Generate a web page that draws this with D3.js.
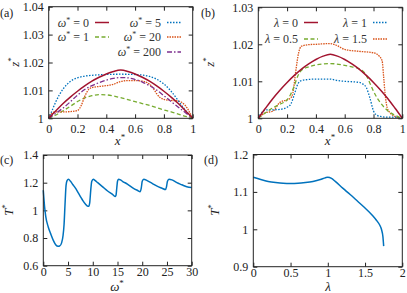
<!DOCTYPE html>
<html>
<head>
<meta charset="utf-8">
<script src="https://cdn.jsdelivr.net/npm/d3@7"></script>
<style>
  body { margin: 0; background: #fff; }
  svg, svg text { font-family: "Liberation Serif", "DejaVu Serif", serif; }
  .tick text { font-size: 12px; fill: #222; font-family: "Liberation Serif", serif; }
  .domain { display: none; }
  .tick line { stroke: #222; }
</style>
</head>
<body>
<svg id="fig" width="407" height="293"></svg>
<script>
"use strict";

// panel (a): z* against x* for several omega*
const omega0 = [[0,1],[0.05,1.0027],[0.1,1.0053],[0.15,1.0076],[0.2,1.0097],[0.25,1.0116],[0.3,1.0133],[0.35,1.0147],[0.4,1.0159],[0.45,1.0168],[0.5,1.0173],[0.55,1.0168],[0.6,1.0159],[0.65,1.0147],[0.7,1.0133],[0.75,1.0116],[0.8,1.0097],[0.85,1.0076],[0.9,1.0053],[0.95,1.0027],[1,1]];
const omega1 = [[0,1],[0.05,1.0012],[0.1,1.0027],[0.15,1.0043],[0.2,1.006],[0.25,1.0073],[0.3,1.0081],[0.35,1.0085],[0.4,1.0084],[0.45,1.008],[0.5,1.0074],[0.55,1.0067],[0.6,1.006],[0.65,1.0053],[0.7,1.0046],[0.75,1.0038],[0.8,1.003],[0.85,1.0023],[0.9,1.0015],[0.95,1.0007],[1,1]];
const omega5 = [[0,1],[0.025,1.003],[0.05,1.006],[0.1,1.0105],[0.15,1.0132],[0.2,1.0145],[0.25,1.0151],[0.3,1.0154],[0.4,1.0157],[0.5,1.0158],[0.6,1.0157],[0.65,1.0155],[0.7,1.015],[0.75,1.014],[0.8,1.0123],[0.85,1.0097],[0.9,1.0063],[0.95,1.0028],[1,1]];
const omega20 = [[0,1],[0.02,1.0018],[0.05,1.0023],[0.1,1.0023],[0.15,1.0024],[0.2,1.0028],[0.225,1.0045],[0.25,1.0078],[0.275,1.0102],[0.3,1.011],[0.35,1.0114],[0.4,1.0117],[0.45,1.0122],[0.5,1.0132],[0.55,1.0135],[0.6,1.0135],[0.65,1.0133],[0.7,1.0122],[0.725,1.0108],[0.75,1.0088],[0.775,1.0074],[0.8,1.0068],[0.85,1.0064],[0.9,1.0062],[0.93,1.0055],[0.96,1.0038],[0.98,1.002],[1,1]];
const omega200 = [[0,1],[0.05,1.0018],[0.1,1.0037],[0.15,1.0059],[0.2,1.0083],[0.25,1.0103],[0.3,1.0117],[0.35,1.0128],[0.4,1.0137],[0.45,1.0143],[0.5,1.0146],[0.55,1.0145],[0.6,1.0139],[0.65,1.013],[0.7,1.0117],[0.75,1.0101],[0.8,1.0081],[0.85,1.006],[0.9,1.004],[0.95,1.002],[1,1]];

// panel (b): z* against x* for several lambda
const lambda0 = omega0;
const lambda05 = [[0,1],[0.05,1.0015],[0.1,1.0028],[0.15,1.0038],[0.2,1.005],[0.225,1.0065],[0.25,1.0088],[0.275,1.0115],[0.3,1.013],[0.35,1.0139],[0.4,1.0144],[0.5,1.0148],[0.6,1.0143],[0.65,1.0139],[0.7,1.0134],[0.725,1.0128],[0.75,1.0116],[0.775,1.0095],[0.8,1.0073],[0.825,1.0055],[0.85,1.0041],[0.9,1.002],[0.95,1.0008],[1,1]];
const lambda1 = [[0,1],[0.03,1.0018],[0.06,1.0023],[0.1,1.0023],[0.15,1.0024],[0.2,1.003],[0.225,1.0038],[0.25,1.0064],[0.275,1.0093],[0.3,1.0102],[0.35,1.0105],[0.4,1.0106],[0.5,1.0106],[0.55,1.0102],[0.6,1.01],[0.7,1.0097],[0.725,1.0093],[0.75,1.0083],[0.775,1.0055],[0.8,1.002],[0.825,1.0008],[0.85,1.0005],[0.9,1.0003],[0.95,1.0003],[1,1]];
const lambda15 = [[0,1],[0.05,1.0015],[0.1,1.0019],[0.15,1.0043],[0.2,1.005],[0.225,1.0055],[0.24,1.0068],[0.26,1.0127],[0.28,1.0177],[0.3,1.0195],[0.35,1.0199],[0.4,1.02],[0.5,1.0202],[0.55,1.0196],[0.6,1.0186],[0.7,1.0181],[0.8,1.0177],[0.84,1.0168],[0.86,1.0155],[0.87,1.0114],[0.88,1.0068],[0.9,1.0023],[0.95,1.0005],[1,1]];

// panel (c): T* against omega*
const tOmega = [[0,1.145],[0.25,1.03],[0.5,0.955],[1,0.88],[1.5,0.83],[2,0.785],[2.5,0.752],[3,0.74],[3.3,0.742],[3.7,0.765],[4,0.82],[4.2,0.9],[4.4,1.05],[4.6,1.18],[4.8,1.215],[5.1,1.225],[5.5,1.21],[6,1.185],[6.5,1.16],[7,1.13],[7.5,1.1],[8,1.07],[8.5,1.045],[9,1.03],[9.2,1.03],[9.4,1.06],[9.6,1.15],[9.8,1.21],[10.1,1.225],[10.5,1.215],[11,1.2],[12,1.17],[13,1.14],[14,1.115],[14.5,1.1],[14.7,1.11],[14.85,1.16],[15,1.21],[15.2,1.225],[15.6,1.22],[16,1.21],[17,1.19],[18,1.165],[19,1.145],[19.6,1.135],[19.8,1.16],[20,1.21],[20.3,1.225],[21,1.215],[22,1.195],[23,1.175],[24,1.16],[24.7,1.15],[24.9,1.17],[25.1,1.21],[25.4,1.225],[26,1.22],[27,1.2],[28,1.185],[29,1.17],[30,1.165]];

// panel (d): T* against lambda
const tLambda = [[0,1.139],[0.1,1.133],[0.2,1.128],[0.3,1.125],[0.4,1.123],[0.5,1.1225],[0.6,1.123],[0.7,1.125],[0.8,1.128],[0.9,1.133],[0.97,1.138],[1.0,1.139],[1.05,1.136],[1.1,1.128],[1.2,1.11],[1.3,1.093],[1.4,1.075],[1.5,1.057],[1.6,1.037],[1.65,1.025],[1.7,1.01],[1.72,1.0],[1.74,0.98],[1.75,0.955]];

// ticks
const xTicksTop = [0, 0.2, 0.4, 0.6, 0.8, 1];
const zTicksA = [1, 1.01, 1.02, 1.03, 1.04];
const zTicksB = [1, 1.01, 1.02, 1.03];
const omegaTicks = [0, 5, 10, 15, 20, 25, 30];
const tTicksC = [0.6, 0.8, 1, 1.2, 1.4];
const lambdaTicks = [0, 0.5, 1, 1.5, 2];
const tTicksD = [0.9, 1, 1.1, 1.2];

const red = "#A2142F", blue = "#0072BD", green = "#77AC30", orange = "#D95319", purple = "#7E2F8E";
const FONT = "Liberation Serif";

const svg = d3.select("#fig");

function panel(o) {
  const x = d3.scaleLinear().domain(o.xd).range(o.xr);
  const y = d3.scaleLinear().domain(o.yd).range(o.yr);
  const g = svg.append("g");
  const fmt = d => String(d);
  const tk = 4;

  g.append("g").attr("transform", `translate(0,${o.yr[0]})`)
    .call(d3.axisBottom(x).tickValues(o.xt).tickFormat(fmt).tickSize(-tk).tickSizeOuter(0).tickPadding(o.xpad))
    .attr("font-family", FONT);
  g.append("g").attr("transform", `translate(0,${o.yr[1]})`)
    .call(d3.axisTop(x).tickValues(o.xt).tickFormat("").tickSize(-tk).tickSizeOuter(0));
  g.append("g").attr("transform", `translate(${o.xr[0]},0)`)
    .call(d3.axisLeft(y).tickValues(o.yt).tickFormat(fmt).tickSize(-tk).tickSizeOuter(0).tickPadding(5))
    .attr("font-family", FONT);
  g.append("g").attr("transform", `translate(${o.xr[1]},0)`)
    .call(d3.axisRight(y).tickValues(o.yt).tickFormat("").tickSize(-tk).tickSizeOuter(0));

  const line = d3.line().x(d => x(d[0])).y(d => y(d[1])).curve(d3.curveMonotoneX);
  o.series.forEach(s => {
    g.append("path").datum(s.data)
      .attr("d", line)
      .attr("fill", "none")
      .attr("stroke", s.color)
      .attr("stroke-width", s.w || 1.3)
      .attr("stroke-dasharray", s.dash || null);
  });

  g.append("rect")
    .attr("x", o.xr[0]).attr("y", o.yr[1])
    .attr("width", o.xr[1] - o.xr[0]).attr("height", o.yr[0] - o.yr[1])
    .attr("fill", "none").attr("stroke", "#222").attr("stroke-width", 1);

  // legend, right-aligned text then a line sample
  (o.legend || []).forEach(l => {
    const t = g.append("text").attr("x", l.tx).attr("y", l.ty + 4)
      .attr("text-anchor", "end").attr("font-size", 12).attr("font-family", FONT).attr("fill", "#333");
    t.append("tspan").attr("font-style", "italic").text(l.sym);
    if (l.star) t.append("tspan").attr("dy", -4).attr("font-size", 8).text("*");
    t.append("tspan").attr("dy", l.star ? 4 : 0).text(" = " + l.val);
    g.append("line").attr("x1", l.tx + 6).attr("x2", l.tx + 20)
      .attr("y1", l.ty).attr("y2", l.ty)
      .attr("stroke", l.color).attr("stroke-width", l.w || 1.3)
      .attr("stroke-dasharray", l.dash || null);
  });
  return g;
}

function starLabel(x0, y0, sym, rotate) {
  const t = svg.append("text").attr("font-size", 13).attr("font-family", FONT)
    .attr("text-anchor", "middle").attr("fill", "#222")
    .attr("transform", `translate(${x0},${y0})` + (rotate ? " rotate(-90)" : ""));
  t.append("tspan").attr("font-style", "italic").text(sym);
  t.append("tspan").attr("dy", -5).attr("font-size", 9).text("*");
}

const dashes = { green: "4,2.5", blue: "1.5,1.5", orange: "1.5,1,1.5,1", purple: "5,2,1.5,2" };

panel({
  xd: [0, 1], yd: [1, 1.04], xr: [48.7, 192.7], yr: [118.3, 6.7],
  xt: xTicksTop, yt: zTicksA, xpad: 6,
  series: [
    { data: omega1, color: green, dash: dashes.green },
    { data: omega20, color: orange, dash: dashes.orange },
    { data: omega200, color: purple, dash: dashes.purple },
    { data: omega5, color: blue, dash: dashes.blue },
    { data: omega0, color: red, w: 1.5 }
  ],
  legend: [
    { tx: 89, ty: 22.5, sym: "ω", star: true, val: "0", color: red, w: 1.5 },
    { tx: 161, ty: 22.5, sym: "ω", star: true, val: "5", color: blue, dash: dashes.blue },
    { tx: 89, ty: 37, sym: "ω", star: true, val: "1", color: green, dash: dashes.green },
    { tx: 161, ty: 37, sym: "ω", star: true, val: "20", color: orange, dash: dashes.orange },
    { tx: 161, ty: 52, sym: "ω", star: true, val: "200", color: purple, dash: dashes.purple }
  ]
});

panel({
  xd: [0, 1], yd: [1, 1.03], xr: [258.3, 402.3], yr: [118.3, 7.3],
  xt: xTicksTop, yt: zTicksB, xpad: 6,
  series: [
    { data: lambda15, color: orange, dash: dashes.orange },
    { data: lambda1, color: blue, dash: dashes.blue },
    { data: lambda05, color: green, dash: dashes.green },
    { data: lambda0, color: red, w: 1.5 }
  ],
  legend: [
    { tx: 298, ty: 22.5, sym: "λ", val: "0", color: red, w: 1.5 },
    { tx: 367, ty: 22.5, sym: "λ", val: "1", color: blue, dash: dashes.blue },
    { tx: 298, ty: 39, sym: "λ", val: "0.5", color: green, dash: dashes.green },
    { tx: 367, ty: 39, sym: "λ", val: "1.5", color: orange, dash: dashes.orange }
  ]
});

panel({
  xd: [0, 30], yd: [0.6, 1.4], xr: [43.3, 191.7], yr: [265.7, 155],
  xt: omegaTicks, yt: tTicksC, xpad: 2,
  series: [{ data: tOmega, color: blue, w: 1.5 }]
});

panel({
  xd: [0, 2], yd: [0.9, 1.2], xr: [253.3, 402.3], yr: [266.7, 154.5],
  xt: lambdaTicks, yt: tTicksD, xpad: 2,
  series: [{ data: tLambda, color: blue, w: 1.5 }]
});

// panel tags
[["(a)", 0, 17], ["(b)", 201, 17], ["(c)", 0, 164], ["(d)", 204, 164]].forEach(p => {
  svg.append("text").attr("x", p[1]).attr("y", p[2]).attr("font-size", 12)
    .attr("font-family", FONT).attr("fill", "#222").text(p[0]);
});

// axis titles
starLabel(120, 145, "x");
starLabel(330, 145, "x");
starLabel(19, 62, "z", true);
starLabel(214, 62, "z", true);
starLabel(117, 291, "ω");
starLabel(13, 210, "T", true);
starLabel(219, 210, "T", true);
svg.append("text").attr("x", 328).attr("y", 291).attr("text-anchor", "middle")
  .attr("font-size", 13).attr("font-family", FONT).attr("font-style", "italic").attr("fill", "#222").text("λ");
</script>
</body>
</html>
